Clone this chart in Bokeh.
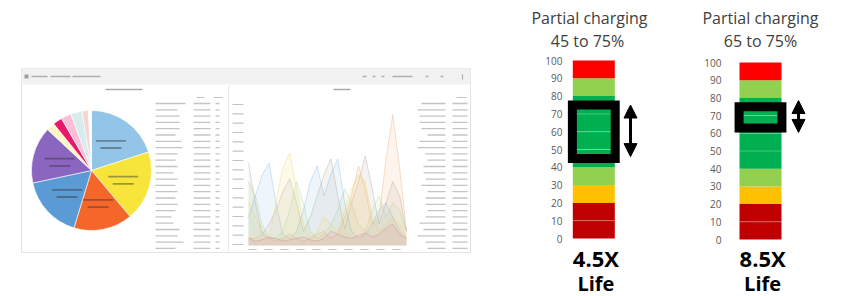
import numpy as np
from bokeh.plotting import figure
from bokeh.layouts import row, column
from bokeh.models import Range1d, LinearAxis, FixedTicker, Arrow, NormalHead
from bokeh.core.properties import value
from bokeh.embed import file_html
from bokeh.resources import INLINE

# ---------------- data: charge-level bars ----------------
seg_bottom = [0, 10, 20, 30, 40, 50, 60, 70, 80, 90]
seg_top = [10, 20, 30, 40, 50, 60, 70, 80, 90, 100]
seg_colors = ["#C00000", "#C00000", "#FFC000", "#92D050", "#00B050",
              "#00B050", "#00B050", "#00B050", "#92D050", "#FF0000"]
y_ticks = [0, 10, 20, 30, 40, 50, 60, 70, 80, 90, 100]
title_line1 = ["Partial charging", "Partial charging"]
title_line2 = ["45 to 75%", "65 to 75%"]
window_low = [45, 63]
window_high = [75, 75]
arrow_low = [46, 60.5]
arrow_high = [75, 78.5]
life_factor = ["4.5X", "8.5X"]
life_word = ["Life", "Life"]

# ---------------- data: dashboard screenshot (pie + area) ----------------
pie_degrees = [72, 68, 57, 61, 55, 8, 9, 10, 11, 6, 3]
pie_colors = ["#92C5E8", "#F7E53B", "#F4662A", "#5B9BD5", "#8A66C0",
              "#FFF6C8", "#E8196B", "#F8BFD6", "#D8ECEE", "#F3D6D2", "#FFFFFF"]
area_gray = [58, 30, 8, 15, 25, 38, 47, 30, 10, 20, 35, 50, 61, 35, 12, 30, 45, 63, 40, 15, 30, 45, 35, 10]
area_blue = [20, 35, 50, 58, 30, 8, 5, 10, 25, 45, 56, 35, 50, 61, 30, 10, 5, 8, 15, 25, 30, 20, 10, 5]
area_yellow = [30, 20, 10, 5, 30, 55, 65, 40, 15, 5, 10, 20, 15, 10, 25, 40, 50, 45, 20, 10, 15, 20, 15, 5]
area_orange = [5, 5, 8, 5, 3, 5, 8, 5, 3, 5, 8, 10, 5, 8, 20, 35, 56, 40, 15, 20, 60, 92, 55, 10]
area_green = [45, 35, 15, 5, 5, 10, 25, 45, 30, 10, 5, 8, 15, 25, 40, 30, 15, 10, 25, 35, 20, 30, 25, 10]
area_pink = [5, 3, 4, 6, 5, 3, 4, 5, 6, 4, 3, 5, 10, 8, 6, 5, 7, 9, 6, 8, 12, 15, 8, 5]
area_series = [area_gray, area_green, area_blue, area_yellow, area_orange, area_pink]
area_colors = ["#A89F92", "#A9D18E", "#7FB2E0", "#EFD35A", "#F2A46E", "#E0708F"]
left_table_name_w = [30, 22, 24, 24, 24, 20, 26, 27, 22, 20, 22, 18, 22, 20, 22, 20, 22, 20, 16, 18, 24, 22, 28, 20]
right_table_name_w = [24, 28, 26, 26, 24, 18, 26, 28, 20, 18, 22, 22, 20, 24, 18, 20, 20, 18, 20, 26, 22, 28, 20, 18]

H = 296
TOP_H = 50
TXT = "#C4C4C4"
FONT = value("Open Sans")

# =================== top strip: bar titles ===================
T = figure(width=846, height=TOP_H, x_range=Range1d(0, 846), y_range=Range1d(TOP_H, 0),
           x_axis_location=None, y_axis_location=None, output_backend="svg",
           toolbar_location=None, min_border=0)
T.outline_line_color = None
T.grid.visible = False
T.text(x=[589, 587, 760, 760], y=[17, 40, 17, 40],
       text=[title_line1[0], title_line2[0], title_line1[1], title_line2[1]],
       text_font=FONT, text_font_size="16px", text_color="#404040",
       text_align="center", text_baseline="middle")

# =================== left: dashboard screenshot ===================
L = figure(width=508, height=H - TOP_H, x_range=Range1d(0, 508), y_range=Range1d(H, TOP_H),
           x_axis_location=None, y_axis_location=None, output_backend="svg",
           toolbar_location=None, min_border=0)
L.outline_line_color = None
L.grid.visible = False

# window frame + header
L.quad(left=21, right=470, top=68, bottom=252, fill_color="white", line_color="#E2E2E2")
L.quad(left=21, right=470, top=68, bottom=84, fill_color="#F2F2F2", line_color=None)
L.rect(x=26, y=76, width=4, height=4, fill_color="#A0A0A0", line_color=None)
L.segment(x0=[31, 50, 72], y0=[76] * 3, x1=[47, 70, 100], y1=[76] * 3, line_color="#B0B0B0", line_width=1.6)
L.segment(x0=[362, 372, 381, 392, 425, 440], y0=[76] * 6, x1=[366, 375, 384, 412, 428, 443],
          y1=[76] * 6, line_color="#B0B0B0", line_width=1.6)
L.segment(x0=[462], y0=[74], x1=[462], y1=[79], line_color="#B0B0B0", line_width=1.2)
L.segment(x0=[228], y0=[85], x1=[228], y1=[252], line_color="#E8E8E8", line_width=1)
# panel titles
L.segment(x0=[105, 333], y0=[89, 89], x1=[142, 350], y1=[89, 89], line_color="#ABABAB", line_width=1.3)

# pie
pie_r = 60.0
pcx, pcy = 91.0, 170.0
L.extra_x_ranges["pie_x"] = Range1d((0 - pcx) / pie_r, (508 - pcx) / pie_r)
L.extra_y_ranges["pie_y"] = Range1d(-(H - pcy) / pie_r, (pcy - TOP_H) / pie_r)
deg = np.array(pie_degrees, dtype=float)
cum = np.concatenate([[0], np.cumsum(deg)])
start = np.radians(90 - cum[:-1])
end = np.radians(90 - cum[1:])
L.wedge(x=0, y=0, radius=1, start_angle=start, end_angle=end, direction="clock",
        fill_color=pie_colors, line_color="white", line_width=0.6,
        x_range_name="pie_x", y_range_name="pie_y")
# slice labels (illegible in source, shown as blurred text lines)
mid = np.radians(90 - (cum[:-1] + deg / 2))[:5]
lx = 0.55 * np.cos(mid)
ly = 0.55 * np.sin(mid)
L.rect(x=lx, y=ly + 0.05, width=0.5, height=0.03, fill_color="#333333", fill_alpha=0.45,
       line_color=None, x_range_name="pie_x", y_range_name="pie_y")
L.rect(x=lx, y=ly - 0.07, width=0.35, height=0.03, fill_color="#333333", fill_alpha=0.45,
       line_color=None, x_range_name="pie_x", y_range_name="pie_y")

# left table
rows = np.arange(len(left_table_name_w))
L.extra_y_ranges["tab"] = Range1d(-(H - 103) / 6.3, (103 - TOP_H) / 6.3)
ty = -rows
nw = np.array(left_table_name_w)
L.segment(x0=155, y0=ty, x1=155 + nw, y1=ty, line_color=TXT, line_width=1.3, y_range_name="tab")
L.segment(x0=193, y0=ty, x1=210, y1=ty, line_color=TXT, line_width=1.3, y_range_name="tab")
L.segment(x0=215, y0=ty, x1=219, y1=ty, line_color=TXT, line_width=1.3, y_range_name="tab")
L.segment(x0=[196, 213], y0=[97, 97], x1=[204, 222], y1=[97, 97], line_color=TXT, line_width=1.2)

# area chart
n = len(area_gray)
idx = np.arange(n)
px_per_idx = (406 - 248) / (n - 1)
L.extra_x_ranges["ax"] = Range1d(-248 / px_per_idx, (n - 1) + (508 - 406) / px_per_idx)
L.extra_y_ranges["ay"] = Range1d(-(H - 245) / 1.42, 100 + (103 - TOP_H) / 1.42)
for vals, c in zip(area_series, area_colors):
    L.varea(x=idx, y1=0, y2=vals, fill_color=c, fill_alpha=0.12, x_range_name="ax", y_range_name="ay")
    L.line(x=idx, y=vals, line_color=c, line_alpha=0.35, line_width=1, x_range_name="ax", y_range_name="ay")
ylab = np.linspace(104, 244, 16)
L.segment(x0=232, y0=ylab, x1=243, y1=ylab, line_color=TXT, line_width=1.2)
xlab = np.linspace(252, 396, 10)
L.segment(x0=xlab - 4, y0=249, x1=xlab + 4, y1=249, line_color=TXT, line_width=1.2)
rw = np.array(right_table_name_w)
rows2 = np.arange(len(rw))
L.extra_y_ranges["tab2"] = Range1d(-(H - 103) / 6.3, (103 - TOP_H) / 6.3)
L.segment(x0=445 - rw, y0=-rows2, x1=445, y1=-rows2, line_color=TXT, line_width=1.3, y_range_name="tab2")
L.segment(x0=452, y0=-rows2, x1=467, y1=-rows2, line_color=TXT, line_width=1.3, y_range_name="tab2")
L.segment(x0=[456], y0=[97], x1=[466], y1=[97], line_color=TXT, line_width=1.2)


# =================== right: two charge bars ===================
page_left = [508, 668]


def bar_fig(i, width, frame_left_px, bar_center_px, bar_px, zero_px, px_per_unit, arrow_px):
    frame_left_page = page_left[i] + frame_left_px
    frame_right_page = page_left[i] + width
    xs = (frame_left_page - bar_center_px) / bar_px
    xe = (frame_right_page - bar_center_px) / bar_px
    ys = -(H - zero_px) / px_per_unit
    ye = (zero_px - TOP_H) / px_per_unit
    p = figure(width=width, height=H - TOP_H, x_range=Range1d(xs, xe), y_range=Range1d(ys, ye),
               x_axis_location=None, y_axis_location=None, output_backend="svg",
               toolbar_location=None, min_border_left=frame_left_px, min_border_right=0,
               min_border_top=0, min_border_bottom=0)
    p.outline_line_color = None
    p.grid.visible = False
    ax = LinearAxis(ticker=FixedTicker(ticks=y_ticks), bounds=(0, 100))
    ax.axis_line_color = None
    ax.major_tick_line_color = None
    ax.minor_tick_line_color = None
    ax.major_tick_out = 0
    ax.major_label_standoff = 3
    ax.major_label_text_font = "Open Sans"
    ax.major_label_text_font_size = "10px"
    ax.major_label_text_color = "#595959"
    p.add_layout(ax, "left")

    p.vbar(x=0, bottom=seg_bottom, top=seg_top, width=1, fill_color=seg_colors, line_color=None)
    same = [seg_top[k] for k in range(len(seg_colors) - 1) if seg_colors[k] == seg_colors[k + 1]]
    p.segment(x0=-0.5, y0=same, x1=0.5, y1=same, line_color="white", line_alpha=0.28, line_width=1)

    p.quad(left=-0.51, right=0.51, bottom=window_low[i], top=window_high[i], fill_color=None,
           line_color="black", line_width=9, line_join="miter")
    ax_x = (arrow_px - bar_center_px) / bar_px
    p.add_layout(Arrow(x_start=ax_x, y_start=arrow_low[i], x_end=ax_x, y_end=arrow_high[i],
                       line_width=3, line_color="black",
                       start=NormalHead(size=13, fill_color="black", line_color="black"),
                       end=NormalHead(size=13, fill_color="black", line_color="black")))

    def val(py):
        return (zero_px - py) / px_per_unit

    p.text(x=[0.05], y=[val(257)], text=[life_factor[i]], text_font=FONT,
           text_font_size="22px", text_font_style="bold", text_color="black",
           text_align="center", text_baseline="middle")
    p.text(x=[0.05], y=[val(283)], text=[life_word[i]], text_font=FONT,
           text_font_size="20px", text_font_style="bold", text_color="black",
           text_align="center", text_baseline="middle")
    return p


B1 = bar_fig(0, 160, 57, 593.3, 42.0, 238.0, 1.78, 630.0)
B2 = bar_fig(1, 178, 56, 760.0, 42.0, 239.0, 1.77, 798.0)

layout = column(T, row(L, B1, B2))
open("out.html", "w").write(file_html(layout, INLINE))
